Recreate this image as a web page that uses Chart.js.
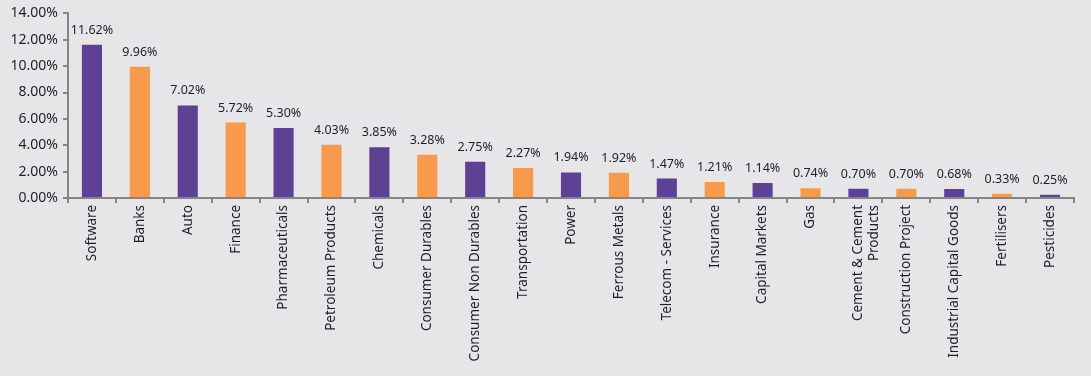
<!DOCTYPE html>
<html>
<head>
<meta charset="utf-8">
<script src="https://cdn.jsdelivr.net/npm/chart.js@4/dist/chart.umd.min.js"></script>
<style>
  html, body { margin: 0; padding: 0; background: #e6e6e8; }
  #wrap { position: relative; width: 1091px; height: 376px; }
</style>
</head>
<body>
<div id="wrap"><canvas id="sector-chart"></canvas></div>
<script>
// Sector allocation (% of portfolio)
const SECTORS = [
  'Software', 'Banks', 'Auto', 'Finance', 'Pharmaceuticals', 'Petroleum Products',
  'Chemicals', 'Consumer Durables', 'Consumer Non Durables', 'Transportation', 'Power',
  'Ferrous Metals', 'Telecom - Services', 'Insurance', 'Capital Markets', 'Gas',
  ['Cement & Cement', 'Products'], 'Construction Project', 'Industrial Capital Goods',
  'Fertilisers', 'Pesticides',
]
const WEIGHTS = [
  11.62, 9.96, 7.02, 5.72, 5.30, 4.03, 3.85, 3.28, 2.75, 2.27, 1.94,
  1.92, 1.47, 1.21, 1.14, 0.74, 0.70, 0.70, 0.68, 0.33, 0.25,
]
const Y_TICKS = [0, 2, 4, 6, 8, 10, 12, 14]

const PURPLE = '#5f4194'
const ORANGE = '#f79a4c'
const TEXT = '#1e1e2a'
const FONT = '"Noto Sans", sans-serif'

// draw the value above each bar
const valueLabels = {
  id: 'valueLabels',
  afterDatasetsDraw(chart) {
    const { ctx } = chart
    const meta = chart.getDatasetMeta(0)
    ctx.save()
    ctx.font = `12.5px ${FONT}`
    ctx.fillStyle = TEXT
    ctx.textAlign = 'center'
    ctx.textBaseline = 'alphabetic'
    meta.data.forEach((bar, i) => {
      ctx.fillText(WEIGHTS[i].toFixed(2) + '%', bar.x, bar.y - 11)
    })
    ctx.restore()
  },
}

new Chart(document.getElementById('sector-chart'), {
  type: 'bar',
  data: {
    labels: SECTORS,
    datasets: [{
      data: WEIGHTS,
      backgroundColor: WEIGHTS.map((_, i) => (i % 2 ? ORANGE : PURPLE)),
      barPercentage: 0.84,
      categoryPercentage: 0.5,
    }],
  },
  options: {
    responsive: true,
    maintainAspectRatio: false,
    animation: false,
    layout: { padding: { top: 8, right: 17, bottom: 0, left: 0 } },
    plugins: { legend: { display: false }, tooltip: { enabled: false } },
    scales: {
      x: {
        grid: { display: true, drawOnChartArea: false, offset: true, color: '#858585', lineWidth: 2, tickLength: 5 },
        border: { color: '#858585', width: 2 },
        ticks: {
          color: TEXT, font: { family: FONT, size: 13.5 }, lineHeight: 1.0,
          minRotation: 90, maxRotation: 90, autoSkip: false, padding: 2,
        },
        afterFit: s => { s.height = 178 },
      },
      y: {
        min: 0, max: 14,
        afterBuildTicks: s => { s.ticks = Y_TICKS.map(v => ({ value: v })) },
        grid: { display: true, drawOnChartArea: false, color: '#858585', lineWidth: 2, tickLength: 5 },
        border: { color: '#858585', width: 2 },
        ticks: {
          color: TEXT, font: { family: FONT, size: 14 }, padding: 5,
          callback: v => v.toFixed(2) + '%',
        },
        afterFit: s => { s.width = 68 },
      },
    },
  },
  plugins: [valueLabels],
})
</script>
</body>
</html>
